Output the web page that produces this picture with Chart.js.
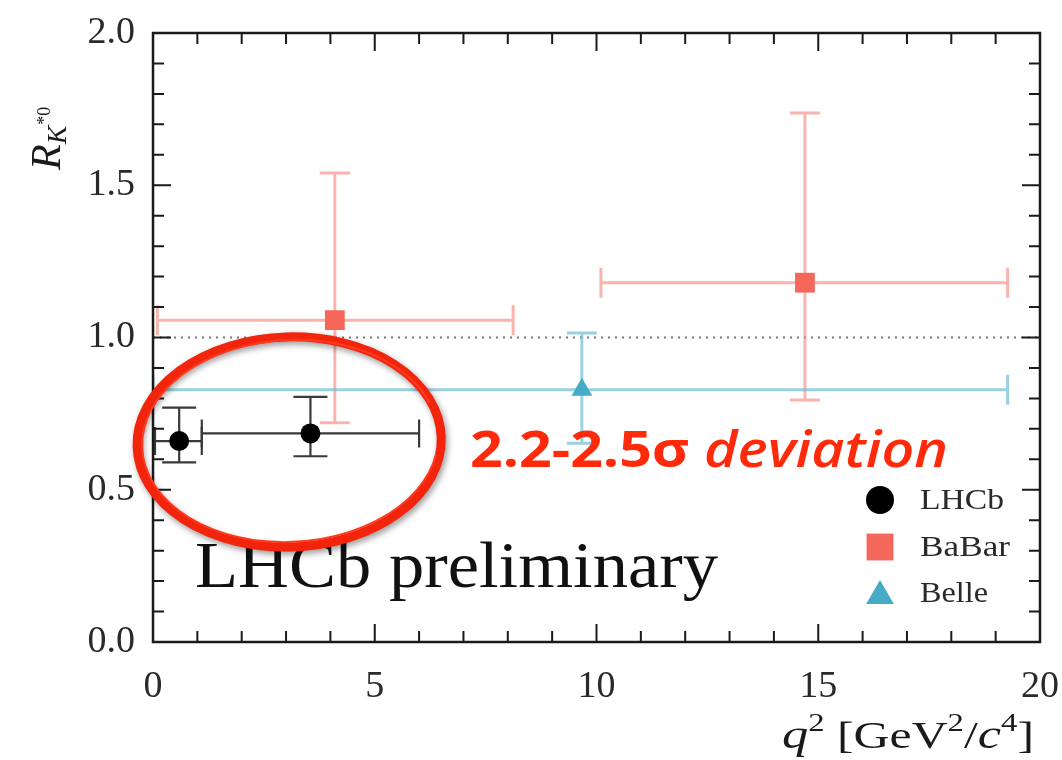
<!DOCTYPE html>
<html><head><meta charset="utf-8">
<script src="https://cdn.jsdelivr.net/npm/chart.js@4/dist/chart.umd.min.js"></script>
<style>html,body{margin:0;padding:0;background:#fff}#wrap{width:1062px;height:760px}</style>
</head><body><div id="wrap"><canvas id="c" width="1062" height="760"></canvas></div>
<script>
// ---- data ----
const seriesNames = ['LHCb', 'BaBar', 'Belle'];
const lhcbX   = [0.59, 3.55];
const lhcbY   = [0.66, 0.685];
const lhcbXLo = [0.045, 1.1];
const lhcbXHi = [1.1, 6.0];
const lhcbYLo = [0.59, 0.61];
const lhcbYHi = [0.77, 0.805];
const babarX   = [4.1, 14.7];
const babarY   = [1.057, 1.18];
const babarXLo = [0.1, 10.1];
const babarXHi = [8.12, 19.27];
const babarYLo = [0.72, 0.795];
const babarYHi = [1.54, 1.737];
const belleX   = [9.67];
const belleY   = [0.828];
const belleXLo = [0.0];
const belleXHi = [19.27];
const belleYLo = [0.653];
const belleYHi = [1.015];
const xTickValues = [0, 5, 10, 15, 20];
const yTickValues = [0.0, 0.5, 1.0, 1.5, 2.0];
const referenceLine = 1.0;
const ellipseCenter = {x: 3.07, y: 0.657};
const ellipseRadii  = {x: 3.43, y: 0.345};
const annotationText = ['2.2-2.5σ', ' deviation'];
const watermarkText = 'LHCb preliminary';

const SERIF = '"Liberation Serif", "DejaVu Serif", serif';

function pts(xs, ys, xlo, xhi, ylo, yhi) {
  return xs.map((x, i) => ({x, y: ys[i], xlo: xlo[i], xhi: xhi[i], ylo: ylo[i], yhi: yhi[i]}));
}

const datasets = [
  {label: seriesNames[0], data: pts(lhcbX, lhcbY, lhcbXLo, lhcbXHi, lhcbYLo, lhcbYHi),
   pointStyle: 'circle', pointRadius: 10, backgroundColor: '#000', borderColor: '#000', borderWidth: 0,
   errColor: '#3a3a3a', errWidth: 2.2, capX: 14, capY: 17, legR: 14},
  {label: seriesNames[1], data: pts(babarX, babarY, babarXLo, babarXHi, babarYLo, babarYHi),
   pointStyle: 'rect', pointRadius: 14, backgroundColor: '#f4675a', borderColor: '#f4675a', borderWidth: 0,
   errColor: 'rgba(246,140,130,0.65)', errWidth: 3, capX: 15, capY: 15, legR: 19},
  {label: seriesNames[2], data: pts(belleX, belleY, belleXLo, belleXHi, belleYLo, belleYHi),
   pointStyle: 'triangle', pointRadius: 12, backgroundColor: '#45abc6', borderColor: '#45abc6', borderWidth: 0,
   errColor: 'rgba(110,190,212,0.7)', errWidth: 3, capX: 15, capY: 15, legR: 16}
];

const frameAndBars = {
  id: 'frameAndBars',
  beforeDatasetsDraw(chart) {
    const {ctx, chartArea: a, scales: {x, y}} = chart;
    ctx.save();
    ctx.beginPath(); ctx.rect(a.left, a.top, a.right - a.left, a.bottom - a.top); ctx.clip();
    ctx.strokeStyle = '#777'; ctx.lineWidth = 2; ctx.setLineDash([2, 5]);
    const yr = y.getPixelForValue(referenceLine);
    ctx.beginPath(); ctx.moveTo(a.left, yr); ctx.lineTo(a.right, yr); ctx.stroke();
    ctx.setLineDash([]);
    chart.data.datasets.forEach(ds => {
      ctx.strokeStyle = ds.errColor; ctx.lineWidth = ds.errWidth;
      ds.data.forEach(p => {
        const px = x.getPixelForValue(p.x), py = y.getPixelForValue(p.y);
        const x0 = x.getPixelForValue(p.xlo), x1 = x.getPixelForValue(p.xhi);
        const y0 = y.getPixelForValue(p.ylo), y1 = y.getPixelForValue(p.yhi);
        ctx.beginPath();
        ctx.moveTo(x0, py); ctx.lineTo(x1, py);
        ctx.moveTo(x0, py - ds.capX); ctx.lineTo(x0, py + ds.capX);
        ctx.moveTo(x1, py - ds.capX); ctx.lineTo(x1, py + ds.capX);
        ctx.moveTo(px, y0); ctx.lineTo(px, y1);
        ctx.moveTo(px - ds.capY, y0); ctx.lineTo(px + ds.capY, y0);
        ctx.moveTo(px - ds.capY, y1); ctx.lineTo(px + ds.capY, y1);
        ctx.stroke();
      });
    });
    ctx.restore();
  },
  afterDatasetsDraw(chart) {
    const {ctx, chartArea: a, scales: {x, y}} = chart;
    ctx.save();
    ctx.strokeStyle = '#1a1a1a'; ctx.lineWidth = 2.5;
    ctx.strokeRect(a.left, a.top, a.right - a.left, a.bottom - a.top);
    ctx.lineWidth = 2;
    for (let v = 1; v < 20; v += 1) {
      const px = x.getPixelForValue(v);
      const len = (v % 5 === 0) ? 18 : 11;
      ctx.beginPath();
      ctx.moveTo(px, a.bottom); ctx.lineTo(px, a.bottom - len);
      ctx.moveTo(px, a.top); ctx.lineTo(px, a.top + len);
      ctx.stroke();
    }
    for (let k = 1; k < 20; k++) {
      const py = y.getPixelForValue(k / 10);
      const len = (k % 5 === 0) ? 18 : 11;
      ctx.beginPath();
      ctx.moveTo(a.left, py); ctx.lineTo(a.left + len, py);
      ctx.moveTo(a.right, py); ctx.lineTo(a.right - len, py);
      ctx.stroke();
    }
    // watermark text
    ctx.fillStyle = '#111';
    ctx.font = '66px ' + SERIF;
    ctx.textBaseline = 'alphabetic'; ctx.textAlign = 'left';
    const wm = ctx.measureText(watermarkText).width;
    ctx.save();
    ctx.translate(195, 587);
    ctx.scale(523 / wm, 1);
    ctx.fillText(watermarkText, 0, 0);
    ctx.restore();
    // legend
    const legY = [500, 547, 593];
    chart.data.datasets.forEach((ds, i) => {
      ctx.fillStyle = ds.backgroundColor;
      Chart.helpers.drawPoint(ctx, {pointStyle: ds.pointStyle, radius: ds.legR, rotation: 0, borderWidth: 0}, 880, legY[i] + (ds.pointStyle === 'triangle' ? 3 : 0));
      ctx.fillStyle = '#2a2a2a';
      ctx.font = '29px ' + SERIF;
      ctx.textBaseline = 'middle';
      const tw = ctx.measureText(ds.label).width;
      const target = {LHCb: 84, BaBar: 90, Belle: 68}[ds.label] || tw;
      ctx.save();
      ctx.translate(920, legY[i] + 1);
      ctx.scale(target / tw, 1);
      ctx.fillText(ds.label, 0, 0);
      ctx.restore();
    });
    ctx.restore();
  },
  afterDraw(chart) {
    const {ctx, scales: {x, y}} = chart;
    ctx.save();
    ctx.fillStyle = '#1a1a1a'; ctx.textBaseline = 'alphabetic'; ctx.textAlign = 'left';
    const parts = [
      {t: 'q', f: 'italic 40px ' + SERIF, dy: 0},
      {t: '2', f: '25px ' + SERIF, dy: -17},
      {t: ' [GeV', f: '38px ' + SERIF, dy: 0},
      {t: '2', f: '25px ' + SERIF, dy: -17},
      {t: '/', f: '38px ' + SERIF, dy: 0},
      {t: 'c', f: 'italic 40px ' + SERIF, dy: 0},
      {t: '4', f: '25px ' + SERIF, dy: -17},
      {t: ']', f: '38px ' + SERIF, dy: 0}
    ];
    let tot = 0;
    parts.forEach(p => { ctx.font = p.f; p.w = ctx.measureText(p.t).width; tot += p.w; });
    ctx.save();
    ctx.translate(782, 748);
    ctx.scale(252 / tot, 1);
    let cx = 0;
    parts.forEach(p => { ctx.font = p.f; ctx.fillText(p.t, cx, p.dy); cx += p.w; });
    ctx.restore();
    // y title
    ctx.save();
    ctx.translate(60, 170);
    ctx.rotate(-Math.PI / 2);
    ctx.font = 'italic 42px ' + SERIF;
    ctx.fillText('R', 0, 0);
    let w = ctx.measureText('R').width;
    ctx.font = 'italic 28px ' + SERIF;
    ctx.fillText('K', w, 6);
    w += ctx.measureText('K').width;
    ctx.font = '18px ' + SERIF;
    ctx.fillText('*0', w + 1, -10);
    ctx.restore();
    // red ellipse
    const ex = x.getPixelForValue(ellipseCenter.x), ey = y.getPixelForValue(ellipseCenter.y);
    const rx = x.getPixelForValue(ellipseCenter.x + ellipseRadii.x) - ex;
    const ry = ey - y.getPixelForValue(ellipseCenter.y + ellipseRadii.y);
    ctx.save();
    ctx.shadowColor = 'rgba(0,0,0,0.4)'; ctx.shadowBlur = 6; ctx.shadowOffsetX = 2; ctx.shadowOffsetY = 3;
    ctx.strokeStyle = '#f2250c'; ctx.lineWidth = 9;
    ctx.beginPath(); ctx.ellipse(ex, ey, rx, ry, -0.03, 0, Math.PI * 2); ctx.stroke();
    ctx.restore();
    ctx.save();
    ctx.strokeStyle = '#ff3a1e'; ctx.lineWidth = 2;
    ctx.beginPath(); ctx.ellipse(ex + 1, ey - 1, rx - 4, ry - 4, -0.05, 0.2, Math.PI * 1.9); ctx.stroke();
    ctx.restore();
    // red text
    ctx.fillStyle = '#ff2a0a';
    const fUp = '700 50px "Open Sans", Lato, sans-serif';
    const fIt = 'italic 600 50px "Open Sans", Lato, sans-serif';
    ctx.font = fUp;
    const w1 = ctx.measureText(annotationText[0]).width;
    ctx.font = fIt;
    const w2 = ctx.measureText(annotationText[1]).width;
    ctx.save();
    ctx.translate(470, 467);
    ctx.scale(478 / (w1 + w2), 1);
    ctx.font = fUp;
    ctx.fillText(annotationText[0], 0, 0);
    ctx.font = fIt;
    ctx.fillText(annotationText[1], w1, 0);
    ctx.restore();
    ctx.restore();
  }
};

new Chart(document.getElementById('c'), {
  type: 'scatter',
  data: {datasets},
  options: {
    responsive: false,
    animation: false,
    layout: {padding: {top: 33, right: 22, left: 0, bottom: 0}},
    plugins: {legend: {display: false}, tooltip: {enabled: false}},
    scales: {
      x: {
        type: 'linear', min: 0, max: 20,
        grid: {display: false}, border: {display: false},
        afterBuildTicks(s) { s.ticks = xTickValues.map(v => ({value: v})); },
        afterFit(s) { s.height = 118; s.paddingLeft = 0; s.paddingRight = 0; },
        ticks: {font: {family: SERIF, size: 38}, color: '#2a2a2a', padding: 14,
                callback: v => String(v)}
      },
      y: {
        type: 'linear', min: 0, max: 2,
        grid: {display: false}, border: {display: false},
        afterBuildTicks(s) { s.ticks = yTickValues.map(v => ({value: v})); },
        afterFit(s) { s.width = 153; s.paddingTop = 0; s.paddingBottom = 0; },
        ticks: {font: {family: SERIF, size: 38}, color: '#2a2a2a', padding: 10,
                callback: v => Number(v).toFixed(1)}
      }
    }
  },
  plugins: [frameAndBars]
});
</script>
</body></html>
